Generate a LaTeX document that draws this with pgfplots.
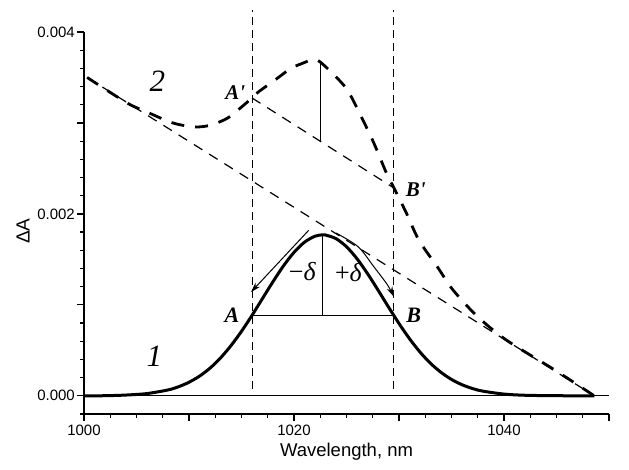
\documentclass[border=0pt]{standalone}
\usepackage{fontspec}
\setmainfont{Liberation Sans}
\newfontfamily\tnr{Liberation Serif}
\usepackage{pgfplots}
\pgfplotsset{compat=1.18}
\usetikzlibrary{arrows.meta}
\begin{document}
\begin{tikzpicture}
\path (-84pt,-56pt) rectangle (545pt,414pt);
\begin{axis}[
  at={(0pt,0pt)}, anchor=south west,
  scale only axis, width=525pt, height=382pt,
  xmin=1000, xmax=1050, ymin=-0.0002, ymax=0.004,
  axis lines*=left,
  every axis line/.append style={line width=1.2pt, black},
  xtick={1000,1010,1020,1030,1040,1050},
  xticklabels={1000,,1020,,1040,},
  minor x tick num=3,
  ytick={0,0.001,0.002,0.003,0.004},
  yticklabels={0.000,,0.002,,0.004},
  minor ytick={-0.0002,0.0002,0.0004,0.0006,0.0008,0.0012,0.0014,0.0016,0.0018,0.0022,0.0024,0.0026,0.0028,0.0032,0.0034,0.0036,0.0038},
  scaled y ticks=false,
  tick align=outside,
  major tick length=7pt, minor tick length=4pt,
  every tick/.append style={black, line width=1.2pt},
  every tick label/.append style={font=\fontsize{15}{17}\selectfont},
  yticklabel style={inner xsep=2pt},
  clip=false,
  xlabel={Wavelength, nm},
  xlabel style={at={(axis description cs:0.5,-0.0995)}, anchor=center, font=\fontsize{18.5}{20}\selectfont},
  ylabel={ΔA},
  ylabel style={at={(axis description cs:-0.116,0.479)}, anchor=center, font=\fontsize{19}{21}\selectfont},
]
% axis frame lines (left and bottom)
\draw[black, line width=1.3pt] (rel axis cs:0,1) -- (rel axis cs:0,0) -- (rel axis cs:1,0);
% zero line
\addplot[black, line width=1pt] coordinates {(1000,0) (1050,0)};
% vertical dashed guides
\addplot[black, line width=1pt, dash pattern=on 8pt off 5pt] coordinates {(1016,0.00008) (1016,0.00424)};
\addplot[black, line width=1pt, dash pattern=on 8pt off 5pt] coordinates {(1029.5,0.00008) (1029.5,0.00424)};
% baseline of curve 2
\addplot[black, line width=1.2pt, dash pattern=on 10pt off 8pt] coordinates {(1000.3,0.0035) (1048.6,0)};
% A'B' chord
\addplot[black, line width=1.2pt, dash pattern=on 10pt off 8pt] coordinates {(1016.0,0.003275) (1029.5,0.002286)};
% curve 1
\addplot[black, line width=3pt, smooth] coordinates {
(1000,0) (1002,0.000001) (1004,0.0000084) (1006,0.0000247) (1008,0.0000645) (1009,0.0000995)
(1010,0.000149) (1011,0.000216) (1012,0.000304) (1013,0.000416) (1014,0.000552) (1015,0.000709)
(1016,0.000884) (1017,0.00107) (1018,0.001255) (1019,0.001429) (1020,0.001577) (1021,0.001689)
(1022,0.001755) (1022.75,0.00177) (1023,0.001768) (1024,0.001728) (1025,0.001639) (1026,0.001507)
(1027,0.001344) (1028,0.001163) (1029,0.000976) (1030,0.000795) (1031,0.000628) (1032,0.000481)
(1033,0.000357) (1034,0.000258) (1035,0.00018) (1036,0.000122) (1037,0.00008) (1038,0.000051)
(1040,0.000019) (1042,0.000006) (1045,0.000001) (1048.6,0)};
% curve 2
\addplot[black, line width=2.8pt, dash pattern=on 13pt off 11pt, smooth] coordinates {
(1000.3,0.0035) (1004.1,0.00322) (1006.0,0.00312) (1008.2,0.00301) (1009.6,0.00297) (1010.9,0.002956)
(1012.2,0.00298) (1013.7,0.003055) (1014.9,0.003165) (1016.0,0.003275) (1016.6,0.00334) (1018.4,0.00349)
(1019.7,0.0036) (1020.9,0.00366) (1021.9,0.00370) (1022.5,0.00367) (1023.8,0.00353) (1025.1,0.00336)
(1026.4,0.00307) (1027.6,0.00278) (1028.8,0.00245) (1029.5,0.00229) (1030.7,0.00201)
(1031.9,0.00171) (1033.7,0.00141) (1035.1,0.00117) (1037.4,0.00088) (1040.2,0.000615) (1044.8,0.000286) (1048.6,0)};
% solid construction lines
\addplot[black, line width=1.3pt] coordinates {(1022.7,0.00088) (1022.7,0.00177)};
\addplot[black, line width=1.3pt] coordinates {(1016,0.00088) (1029.5,0.00088)};
\addplot[black, line width=1.3pt] coordinates {(1022.5,0.00367) (1022.5,0.00279)};
% arrows
\addplot[black, line width=1pt, -{Stealth[length=10pt,width=6pt]}] coordinates {(1021.4,0.00182) (1015.9,0.00114)};
\addplot[black, line width=1pt, smooth, -{Stealth[length=10pt,width=6pt]}] coordinates {(1024.0,0.00179) (1026.1,0.00164) (1027.6,0.00142) (1028.9,0.00122) (1029.5,0.00109)};
% labels
\node[font=\tnr\itshape\fontsize{31}{31}\selectfont] at (axis cs:1007,0.00346) {2};
\node[font=\tnr\itshape\fontsize{31}{31}\selectfont] at (axis cs:1006.7,0.00044) {1};
\node[font=\tnr\bfseries\itshape\fontsize{21}{21}\selectfont] at (axis cs:1014.4,0.00333) {A'};
\node[font=\tnr\bfseries\itshape\fontsize{21}{21}\selectfont] at (axis cs:1031.6,0.00227) {B'};
\node[font=\tnr\bfseries\itshape\fontsize{22}{22}\selectfont] at (axis cs:1014.1,0.00089) {A};
\node[font=\tnr\bfseries\itshape\fontsize{22}{22}\selectfont] at (axis cs:1031.4,0.00089) {B};
\node[font=\tnr\fontsize{26}{26}\selectfont] at (axis cs:1020.8,0.00137) {−\textit{δ}};
\node[font=\tnr\fontsize{26}{26}\selectfont] at (axis cs:1025.2,0.00136) {+\textit{δ}};
\end{axis}
\end{tikzpicture}
\end{document}
